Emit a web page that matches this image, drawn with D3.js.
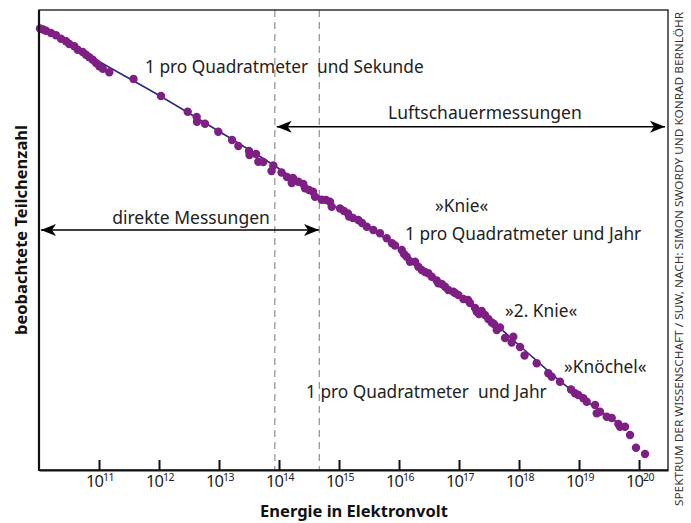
<!DOCTYPE html>
<html>
  <head>
  <title>Energiespektrum</title>
  <style>
    body, html { margin: 0; padding: 0; background: #fff; }
    svg text { font-family: "Noto Sans", sans-serif; white-space: pre; }
  </style>
  </head>
  <body>

  <svg id="svg" width="691" height="523"></svg>

  <script src="https://d3js.org/d3.v7.min.js"></script>
  <script>
    // measured points: log10(energy in eV), log10(relative count)
    const pointLogE = [10.017, 10.067, 10.117, 10.2, 10.283, 10.367, 10.45, 10.505, 10.588, 10.645,
      10.728, 10.783, 10.838, 10.895, 10.95, 11.005, 11.062, 11.172, 11.575, 12.033,
      12.478, 12.628, 12.633, 12.767, 12.988, 13.217, 13.322, 13.5, 13.508, 13.617,
      13.655, 13.738, 13.905, 13.875, 14.042, 14.133, 14.212, 14.233, 14.322, 14.405,
      14.433, 14.5, 14.567, 14.6, 14.712, 14.783, 14.85, 14.878, 15.017, 15.083,
      15.15, 15.167, 15.233, 15.322, 15.383, 15.462, 15.572, 15.683, 15.795, 15.883,
      15.933, 16.045, 16.083, 16.128, 16.183, 16.267, 16.322, 16.378, 16.433, 16.488,
      16.545, 16.628, 16.655, 16.712, 16.767, 16.822, 16.905, 16.933, 16.988, 17.072,
      17.15, 17.183, 17.267, 17.295, 17.333, 17.378, 17.433, 17.488, 17.545, 17.583,
      17.628, 17.683, 17.767, 17.878, 17.905, 18.017, 18.092, 18.295, 18.488, 18.545,
      18.683, 18.867, 18.933, 18.988, 19.072, 19.128, 19.267, 19.295, 19.35, 19.462,
      19.545, 19.655, 19.683, 19.767, 19.85, 19.95, 20.1]
    const pointLogN = [-1.408, -1.484, -1.575, -1.75, -1.925, -2.184, -2.382, -2.587, -2.762, -3.021,
      -3.196, -3.401, -3.599, -3.782, -4.033, -4.284, -4.466, -4.74, -5.25, -6.544,
      -7.738, -8.142, -8.499, -8.651, -9.26, -9.892, -10.348, -10.729, -11.033, -10.957,
      -11.543, -11.566, -11.832, -12.25, -12.365, -12.707, -13.164, -12.783, -13.065, -13.24,
      -13.567, -13.696, -13.826, -14.206, -14.434, -14.457, -14.587, -14.967, -15.104, -15.294,
      -15.484, -15.713, -15.827, -15.979, -16.207, -16.489, -16.74, -16.991, -17.371, -17.752,
      -17.919, -18.262, -18.566, -18.772, -19.152, -19.152, -19.533, -19.784, -19.936, -20.035,
      -20.293, -20.582, -20.795, -20.849, -21.054, -21.305, -21.435, -21.533, -21.686, -21.99,
      -22.065, -22.294, -22.675, -22.956, -23.131, -22.903, -23.207, -23.512, -23.778, -23.892,
      -24.349, -24.159, -24.958, -25.3, -24.859, -25.643, -26.289, -26.883, -27.643, -27.902,
      -28.282, -28.876, -29.165, -29.295, -29.546, -29.805, -30.056, -30.688, -30.565, -30.946,
      -31.044, -31.501, -31.706, -31.706, -32.338, -33.304, -33.783]

    // fitted spectrum
    const fitLogE = [10, 11.017, 12.017, 13.017, 13.933, 14.683, 15.35, 16.017, 16.683, 17.35, 18.017, 18.683, 19.35, 19.767]
    const fitLogN = [-1.217, -3.957, -6.544, -9.283, -11.87, -14.229, -16.131, -18.185, -20.772, -22.903, -25.566, -28.229, -30.512, -31.73]

    const tickExponents = [11, 12, 13, 14, 15, 16, 17, 18, 19, 20]
    const dashedLogE = [13.93, 14.672]

    const labelTexts = ['1 pro Quadratmeter  und Sekunde', '»Knie«', '1 pro Quadratmeter und Jahr',
      '»2. Knie«', '»Knöchel«', '1 pro Quadratmeter  und Jahr']
    const labelLogE = [11.767, 16.6, 16.1, 17.767, 18.75, 14.45]
    const labelLogN = [-4.794, -15.37, -17.5, -23.36, -27.62, -29.52]

    const rangeTexts = ['Luftschauermessungen', 'direkte Messungen']
    const rangeFromLogE = [13.962, 10.033]
    const rangeToLogE = [20.433, 14.667]
    const rangeLogN = [-8.88, -16.74]

    const margin = {left: 39, top: 10, right: 668, bottom: 470}
    const svg = d3.select('#svg')

    const x = d3.scaleLog()
      .domain([1e10, Math.pow(10, 20.483)])
      .range([margin.left, margin.right])
    const y = d3.scaleLog()
      .domain([1, 1e-35])
      .range([margin.top, margin.bottom])
    const px = e => x(Math.pow(10, e))
    const py = n => y(Math.pow(10, n))

    // arrow heads
    const defs = svg.append('defs')
    defs.append('marker')
      .attr('id', 'head')
      .attr('viewBox', '-15 -7 16 14')
      .attr('refX', 0).attr('refY', 0)
      .attr('markerWidth', 16).attr('markerHeight', 14)
      .attr('markerUnits', 'userSpaceOnUse')
      .attr('orient', 'auto-start-reverse')
      .append('path')
      .attr('d', 'M0,0 L-15,-6 L-11,0 L-15,6 Z')
      .attr('fill', '#000')

    // dashed limits
    svg.selectAll('.dash')
      .data(dashedLogE)
      .join('line')
      .attr('x1', d => px(d)).attr('x2', d => px(d))
      .attr('y1', margin.top).attr('y2', margin.bottom)
      .attr('stroke', '#9a9a9a')
      .attr('stroke-width', 1.3)
      .attr('stroke-dasharray', '7,5')

    // fit line
    const line = d3.line()
      .x(d => px(d[0]))
      .y(d => py(d[1]))
      .curve(d3.curveCatmullRom)
    svg.append('path')
      .attr('d', line(d3.zip(fitLogE, fitLogN)))
      .attr('fill', 'none')
      .attr('stroke', '#2b2a80')
      .attr('stroke-width', 1.6)

    // points
    svg.selectAll('.pt')
      .data(d3.zip(pointLogE, pointLogN))
      .join('circle')
      .attr('cx', d => px(d[0]))
      .attr('cy', d => py(d[1]))
      .attr('r', 4.2)
      .attr('fill', '#7e1f84')

    // frame
    svg.append('rect')
      .attr('x', margin.left).attr('y', margin.top)
      .attr('width', margin.right - margin.left)
      .attr('height', margin.bottom - margin.top)
      .attr('fill', 'none')
      .attr('stroke', '#111')
      .attr('stroke-width', 1.3)

    const xAxis = svg.append('g')
      .attr('transform', `translate(0,${margin.bottom})`)
      .call(d3.axisBottom(x)
        .tickValues(tickExponents.map(e => Math.pow(10, e)))
        .tickSizeInner(-10).tickSizeOuter(0)
        .tickFormat(''))
    xAxis.select('.domain').attr('stroke', '#111').attr('stroke-width', 2.2)
    xAxis.selectAll('.tick line').attr('stroke', '#111').attr('stroke-width', 2)

    svg.append('line')
      .attr('x1', margin.left).attr('x2', margin.left)
      .attr('y1', margin.top).attr('y2', margin.bottom + 1)
      .attr('stroke', '#111').attr('stroke-width', 2.2)

    const tl = svg.selectAll('.tl')
      .data(tickExponents)
      .join('text')
      .attr('x', d => px(d) + 1)
      .attr('y', margin.bottom + 17)
      .attr('text-anchor', 'middle')
      .attr('font-size', 16.5)
      .attr('fill', '#222')
    tl.append('tspan').text('10').attr('letter-spacing', -1)
    tl.append('tspan').text(d => d).attr('font-size', 10.5).attr('dy', -6).attr('letter-spacing', -0.5)

    // range arrows
    svg.selectAll('.arr')
      .data(rangeTexts)
      .join('line')
      .attr('x1', (d, i) => px(rangeFromLogE[i]))
      .attr('x2', (d, i) => px(rangeToLogE[i]))
      .attr('y1', (d, i) => py(rangeLogN[i]))
      .attr('y2', (d, i) => py(rangeLogN[i]))
      .attr('stroke', '#000')
      .attr('stroke-width', 1.4)
      .attr('marker-start', 'url(#head)')
      .attr('marker-end', 'url(#head)')
    svg.selectAll('.arrt')
      .data(rangeTexts)
      .join('text')
      .attr('x', (d, i) => (px(rangeFromLogE[i]) + px(rangeToLogE[i])) / 2 + (i === 0 ? 14 : 11))
      .attr('y', (d, i) => py(rangeLogN[i]) - (i === 0 ? 8 : 6))
      .attr('text-anchor', 'middle')
      .attr('font-size', 17.5)
      .attr('fill', '#222')
      .text(d => d)

    // annotations
    svg.selectAll('.lab')
      .data(labelTexts)
      .join('text')
      .attr('x', (d, i) => px(labelLogE[i]))
      .attr('y', (d, i) => py(labelLogN[i]))
      .attr('font-size', 17.3)
      .attr('fill', '#222')
      .text(d => d)

    // axis titles
    svg.append('text')
      .attr('x', 354).attr('y', 517)
      .attr('text-anchor', 'middle')
      .attr('font-size', 16.5)
      .attr('font-weight', 'bold')
      .attr('fill', '#111')
      .text('Energie in Elektronvolt')
    svg.append('text')
      .attr('transform', 'translate(27,230) rotate(-90)')
      .attr('text-anchor', 'middle')
      .attr('font-size', 16.5)
      .attr('font-weight', 'bold')
      .attr('fill', '#111')
      .text('beobachtete Teilchenzahl')

    svg.append('text')
      .attr('transform', 'translate(683,506) rotate(-90)')
      .attr('font-size', 10.5)
      .attr('fill', '#333')
      .attr('textLength', 494)
      .attr('lengthAdjust', 'spacingAndGlyphs')
      .text('SPEKTRUM DER WISSENSCHAFT / SUW, NACH: SIMON SWORDY UND KONRAD BERNLÖHR')
  </script>
  </body>
</html>
